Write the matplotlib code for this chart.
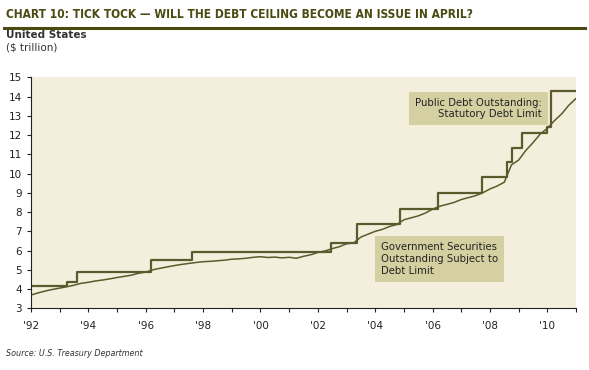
import matplotlib.pyplot as plt
from matplotlib.lines import Line2D

# Statutory debt limit: (date as year fraction, limit in $ trillion)
limit_dates = [1992.0, 1993.27, 1993.6, 1996.2, 1997.6, 2002.45, 2003.38, 2004.88,
               2006.2, 2007.72, 2008.58, 2008.78, 2009.12, 2009.98, 2010.12, 2011.0]
limit_values = [4.145, 4.37, 4.9, 5.5, 5.95, 6.4, 7.384, 8.184,
                8.965, 9.815, 10.615, 11.315, 12.104, 12.394, 14.294, 14.294]

# Government securities outstanding subject to the limit (quarterly readings)
debt_dates = [1992.0 + 0.25 * i for i in range(77)]
debt_values = [3.69, 3.80, 3.90, 3.98, 4.05, 4.12, 4.20, 4.30,
               4.35, 4.42, 4.47, 4.53, 4.60, 4.66, 4.72, 4.82,
               4.88, 5.00, 5.08, 5.15, 5.22, 5.28, 5.33, 5.38,
               5.42, 5.44, 5.47, 5.50, 5.55, 5.57, 5.60, 5.65,
               5.68, 5.64, 5.66, 5.62, 5.65, 5.60, 5.70, 5.78,
               5.90, 5.98, 6.10, 6.20, 6.35, 6.40, 6.70, 6.85,
               7.00, 7.10, 7.25, 7.35, 7.60, 7.70, 7.80, 7.95,
               8.15, 8.30, 8.40, 8.50, 8.65, 8.75, 8.85, 9.00,
               9.20, 9.35, 9.55, 10.45, 10.70, 11.20, 11.60, 12.05,
               12.35, 12.75, 13.10, 13.55, 13.90]

year_ticks = list(range(1992, 2012))
year_labels = ["'92", "", "'94", "", "'96", "", "'98", "", "'00", "", "'02", "",
               "'04", "", "'06", "", "'08", "", "'10", ""]

olive = '#5b5a2c'
dark = '#4a4a12'
bg = '#f4efdd'
boxc = '#d4d0a2'

plt.rcParams['font.family'] = ['DejaVu Sans']

fig = plt.figure(figsize=(5.89, 3.70), dpi=100)
fig.patch.set_facecolor('white')

# header
fig.text(6 / 589, 1 - 14 / 370, 'CHART 10: TICK TOCK \u2014 WILL THE DEBT CEILING BECOME AN ISSUE IN APRIL?',
         fontsize=8.6, fontweight='bold', fontstretch='condensed', color=dark,
         va='center', ha='left')
fig.add_artist(Line2D([4 / 589, 585 / 589], [1 - 28 / 370, 1 - 28 / 370],
                      color=dark, lw=2.2))
fig.text(6 / 589, 1 - 35 / 370, 'United States', fontsize=7.5, fontweight='bold',
         color='#333333', va='center', ha='left')
fig.text(6 / 589, 1 - 47 / 370, '($ trillion)', fontsize=7.5,
         color='#333333', va='center', ha='left')
fig.text(6 / 589, 1 - 353 / 370, 'Source: U.S. Treasury Department', fontsize=5.8,
         style='italic', color='#333333', va='center', ha='left')

ax = fig.add_axes([31 / 589, 1 - 308.3 / 370, 545 / 589, 231 / 370])
ax.set_facecolor(bg)

ax.step(limit_dates, limit_values, where='post', color=olive, lw=1.6)
ax.plot(debt_dates, debt_values, color=olive, lw=1.1)

ax.set_xlim(1992, 2011)
ax.set_ylim(3, 15)
ax.set_yticks(range(3, 16))
ax.set_xticks(year_ticks)
ax.set_xticklabels(year_labels)
ax.tick_params(axis='both', labelsize=7.5, colors='#222222', length=3, width=0.8)
ax.tick_params(axis='x', pad=6)
for s in ['top', 'right']:
    ax.spines[s].set_visible(False)
for s in ['left', 'bottom']:
    ax.spines[s].set_color('#222222')
    ax.spines[s].set_linewidth(0.8)

ax.text(2009.8, 13.38, 'Public Debt Outstanding:\nStatutory Debt Limit', fontsize=7.3,
        ha='right', va='center', color='#222222', multialignment='right',
        bbox=dict(boxstyle='square,pad=0.6', fc=boxc, ec='none'))
ax.text(2004.2, 5.55, 'Government Securities\nOutstanding Subject to\nDebt Limit', fontsize=7.3,
        ha='left', va='center', color='#222222', linespacing=1.25,
        bbox=dict(boxstyle='square,pad=0.6', fc=boxc, ec='none'))

fig.savefig('out.png', dpi=100, facecolor='white')
